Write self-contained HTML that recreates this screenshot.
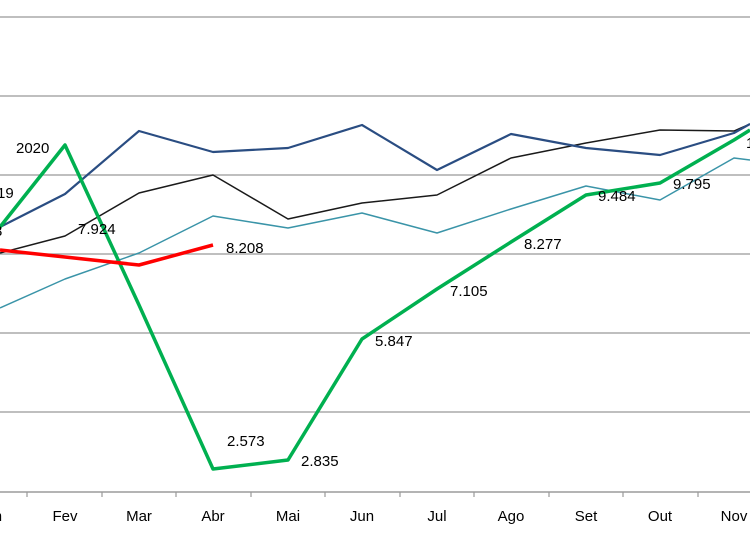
<!DOCTYPE html><html><head><meta charset="utf-8"><style>body{margin:0;background:#fff}svg{display:block}text{font-family:"Liberation Sans",Calibri,sans-serif;font-size:15px;fill:#000}</style></head><body>
<svg width="750" height="536" viewBox="0 0 750 536">
<g stroke="#999" stroke-width="1.2">
<line x1="0" y1="17" x2="750" y2="17"/><line x1="0" y1="96" x2="750" y2="96"/><line x1="0" y1="175" x2="750" y2="175"/><line x1="0" y1="254" x2="750" y2="254"/><line x1="0" y1="333" x2="750" y2="333"/><line x1="0" y1="412" x2="750" y2="412"/>
<line x1="0" y1="492" x2="750" y2="492" stroke="#888"/>
<line x1="27" y1="492" x2="27" y2="497"/><line x1="102" y1="492" x2="102" y2="497"/><line x1="176" y1="492" x2="176" y2="497"/><line x1="251" y1="492" x2="251" y2="497"/><line x1="325" y1="492" x2="325" y2="497"/><line x1="400" y1="492" x2="400" y2="497"/><line x1="474" y1="492" x2="474" y2="497"/><line x1="549" y1="492" x2="549" y2="497"/><line x1="623" y1="492" x2="623" y2="497"/><line x1="698" y1="492" x2="698" y2="497"/>
</g>
<g fill="none" stroke-linejoin="round">
<polyline stroke="#3a94a8" stroke-width="1.5" points="0,308 65,279 139,253 213,216 288,228 362,213 437,233 511,209 586,186 660,200 734,158 750,160"/>
<polyline stroke="#1a1a1a" stroke-width="1.5" points="0,253 65,236 139,193 213,175 288,219 362,203 437,195 511,158 586,143 660,130 734,131 750,124"/>
<polyline stroke="#2a4d82" stroke-width="2.2" points="0,227 65,194 139,131 213,152 288,148 362,125 437,170 511,134 586,148 660,155 734,133 750,124"/>
<polyline stroke="#00b050" stroke-width="3.5" points="0,227 65,145 139,305 213,469 288,460 362,339 437,289 511,242 586,195 660,183 734,140 750,130"/>
<polyline stroke="#ff0000" stroke-width="3.5" points="0,250 65,257 139,265 213,245"/>
</g>
<text x="16" y="153">2020</text><text x="-3" y="198">19</text><text x="-6" y="236">3</text>
<text x="78" y="234">7.924</text><text x="226" y="253">8.208</text><text x="227" y="446">2.573</text><text x="301" y="466">2.835</text><text x="375" y="346">5.847</text><text x="450" y="296">7.105</text><text x="524" y="249">8.277</text><text x="598" y="201">9.484</text><text x="673" y="189">9.795</text><text x="746" y="148">1</text>
<g text-anchor="middle"><text x="-10" y="521">Jan</text><text x="65" y="521">Fev</text><text x="139" y="521">Mar</text><text x="213" y="521">Abr</text><text x="288" y="521">Mai</text><text x="362" y="521">Jun</text><text x="437" y="521">Jul</text><text x="511" y="521">Ago</text><text x="586" y="521">Set</text><text x="660" y="521">Out</text><text x="734" y="521">Nov</text></g>
</svg></body></html>
